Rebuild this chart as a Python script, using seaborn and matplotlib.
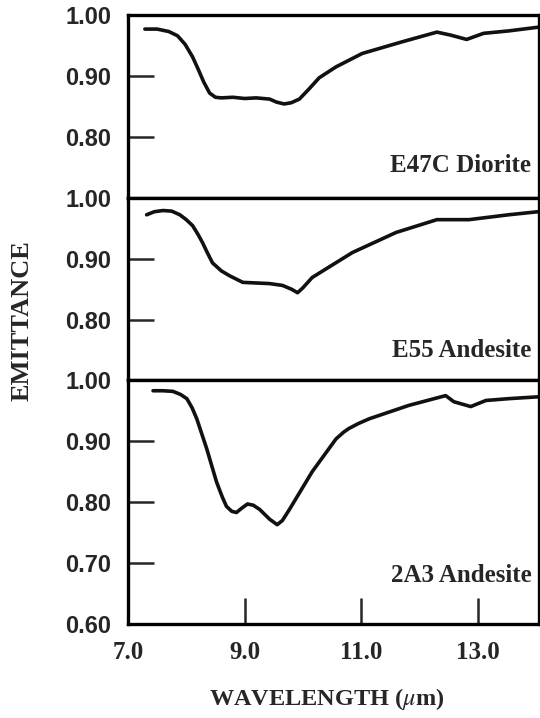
import numpy as np
import pandas as pd
import matplotlib
matplotlib.use("Agg")
import matplotlib.pyplot as plt
import seaborn as sns

# wavelength (um) / emittance
wl_diorite = [7.29, 7.5, 7.7, 7.85, 7.98, 8.11, 8.2, 8.3, 8.4, 8.5, 8.6, 8.8, 9.0, 9.2, 9.43,
              9.55, 9.68, 9.8, 9.94, 10.1, 10.28, 10.57, 11.02, 11.70, 12.30, 12.54, 12.81,
              13.10, 13.53, 14.03]
em_diorite = [0.977, 0.977, 0.973, 0.966, 0.952, 0.931, 0.912, 0.890, 0.872, 0.865, 0.864,
              0.865, 0.863, 0.864, 0.862, 0.857, 0.854, 0.856, 0.862, 0.878, 0.897, 0.915,
              0.937, 0.956, 0.972, 0.967, 0.960, 0.970, 0.974, 0.980]

wl_e55 = [7.32, 7.45, 7.6, 7.75, 7.89, 8.0, 8.11, 8.2, 8.28, 8.36, 8.45, 8.6, 8.74, 8.97,
          9.43, 9.65, 9.8, 9.91, 10.0, 10.16, 10.85, 11.60, 12.30, 12.85, 13.53, 14.03]
em_e55 = [0.972, 0.977, 0.979, 0.978, 0.972, 0.964, 0.954, 0.940, 0.926, 0.910, 0.893,
          0.880, 0.872, 0.861, 0.859, 0.856, 0.850, 0.844, 0.852, 0.869, 0.910, 0.943,
          0.964, 0.964, 0.972, 0.977]

wl_2a3 = [7.43, 7.6, 7.77, 7.9, 8.01, 8.1, 8.18, 8.35, 8.52, 8.62, 8.69, 8.78, 8.86, 8.95,
          9.05, 9.15, 9.26, 9.43, 9.56, 9.65, 9.77, 10.16, 10.57, 10.7, 10.79, 10.95,
          11.14, 11.82, 12.45, 12.59, 12.88, 13.14, 13.53, 14.03]
em_2a3 = [0.983, 0.983, 0.982, 0.977, 0.970, 0.955, 0.937, 0.888, 0.833, 0.808, 0.793,
          0.785, 0.783, 0.790, 0.797, 0.795, 0.788, 0.772, 0.763, 0.770, 0.788, 0.850,
          0.904, 0.915, 0.921, 0.929, 0.937, 0.959, 0.975, 0.965, 0.957, 0.967, 0.970, 0.973]

names = ["E47C Diorite", "E55 Andesite", "2A3 Andesite"]
label_y = [0.743, 0.738, 0.669]
ylims = [(0.70, 1.00), (0.70, 1.00), (0.60, 1.00)]
yticks = [[0.80, 0.90, 1.00], [0.80, 0.90, 1.00], [0.60, 0.70, 0.80, 0.90, 1.00]]
xticks = [7.0, 9.0, 11.0, 13.0]

curves = [(wl_diorite, em_diorite), (wl_e55, em_e55), (wl_2a3, em_2a3)]

sns.set_style("ticks")
plt.rcParams["mathtext.fontset"] = "stix"
fig, axes = plt.subplots(3, 1, figsize=(5.4, 7.18), dpi=100,
                         gridspec_kw={"height_ratios": [3, 3, 4], "hspace": 0})
fig.subplots_adjust(left=0.237, right=0.998, top=0.979, bottom=0.131)

sans = {"family": "Liberation Sans", "weight": "bold", "size": 17}
serif = {"family": "Liberation Serif", "weight": "bold", "size": 18}

for i, ax in enumerate(axes):
    df = pd.DataFrame({"wl": curves[i][0], "em": curves[i][1]})
    sns.lineplot(data=df, x="wl", y="em", ax=ax, color="#111111", linewidth=2.6)
    ax.set_xlim(7.0, 14.05)
    ax.set_ylim(*ylims[i])
    ax.set_yticks(yticks[i])
    ax.set_yticklabels(["%.2f" % v for v in yticks[i]], fontdict=sans)
    ax.set_xlabel("")
    ax.set_ylabel("")
    ax.tick_params(axis="y", direction="in", length=19, width=1.8, pad=12)
    for s in ax.spines.values():
        s.set_linewidth(2.4)
        s.set_color("black")
    if i < 2:
        ax.set_xticks([])
    else:
        ax.set_xticks(xticks)
        ax.set_xticklabels(["%.1f" % v for v in xticks], fontdict=serif)
        ax.tick_params(axis="x", direction="in", length=19, width=1.8, pad=12)
    ax.text(13.92, label_y[i], names[i], ha="right", va="baseline", **serif)

fig.text(0.041, 0.554, "EMITTANCE", rotation=90, ha="center", va="center",
         family="Liberation Serif", weight="bold", size=19)
fig.text(0.604, 0.026, r"WAVELENGTH ($\mu$m)", ha="center", va="center",
         family="Liberation Serif", weight="bold", size=17.5)

plt.savefig("out.png", dpi=100)
plt.close()
